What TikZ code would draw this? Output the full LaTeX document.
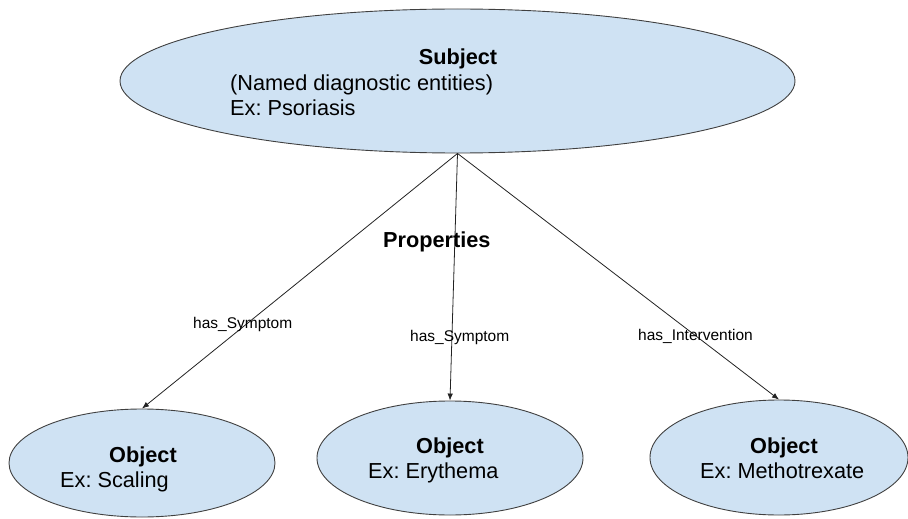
\documentclass[tikz,border=0pt]{standalone}
\usepackage{fontspec}
\setmainfont{Liberation Sans}
\usetikzlibrary{shapes.geometric,arrows.meta}
\frenchspacing
\definecolor{entityfill}{HTML}{CFE2F3}
\definecolor{entityline}{HTML}{404040}
\definecolor{linkline}{HTML}{222222}
\tikzset{
  entity/.style={ellipse, draw=entityline, line width=0.9pt, fill=entityfill, inner sep=0pt},
  bigtext/.style={font=\fontsize{21.7}{25}\selectfont, inner sep=0pt, anchor=base west},
  boldtext/.style={font=\fontsize{21.7}{25}\selectfont\bfseries, inner sep=0pt, anchor=base},
  linktext/.style={font=\fontsize{15.5}{18}\selectfont, inner sep=0pt, anchor=base west},
  link/.style={draw=linkline, line width=0.8pt, -{Latex[length=7pt,width=5.5pt]}}
}
\begin{document}
\begin{tikzpicture}[x=1pt,y=-1pt]
  \useasboundingbox (0,0) rectangle (908,519);

  % subject and the three objects
  \node[entity, minimum width=675pt, minimum height=144pt] (subj) at (457.5,81) {};
  \node[entity, minimum width=266pt, minimum height=108pt] (objA) at (142,463) {};
  \node[entity, minimum width=266pt, minimum height=114pt] (objB) at (450,458) {};
  \node[entity, minimum width=258pt, minimum height=115pt] (objC) at (779,457.5) {};

  % subject text
  \node[boldtext] (subjT) at (458,65) {Subject};
  \node[bigtext] (subjD) at (230,90) {(Named diagnostic entities)};
  \node[bigtext] (subjE) at (230,115) {Ex: Psoriasis};

  % object texts
  \node[boldtext] (objAT) at (143,462) {Object};
  \node[bigtext] (objAE) at (60,487) {Ex: Scaling};
  \node[boldtext] (objBT) at (450,453) {Object};
  \node[bigtext] (objBE) at (368,478) {Ex: Erythema};
  \node[boldtext] (objCT) at (784,453) {Object};
  \node[bigtext] (objCE) at (700,478) {Ex: Methotrexate};

  % property links
  \draw[link] (subj.south) -- (objA.north);
  \draw[link] (subj.south) -- (objB.north);
  \draw[link] (subj.south) -- (objC.north);

  % labels
  \node[boldtext, anchor=base west] (props) at (383,247) {Properties};
  \node[linktext] (lblA) at (193,328) {has\_Symptom};
  \node[linktext] (lblB) at (410,341) {has\_Symptom};
  \node[linktext] (lblC) at (638,340) {has\_Intervention};
\end{tikzpicture}
\end{document}
